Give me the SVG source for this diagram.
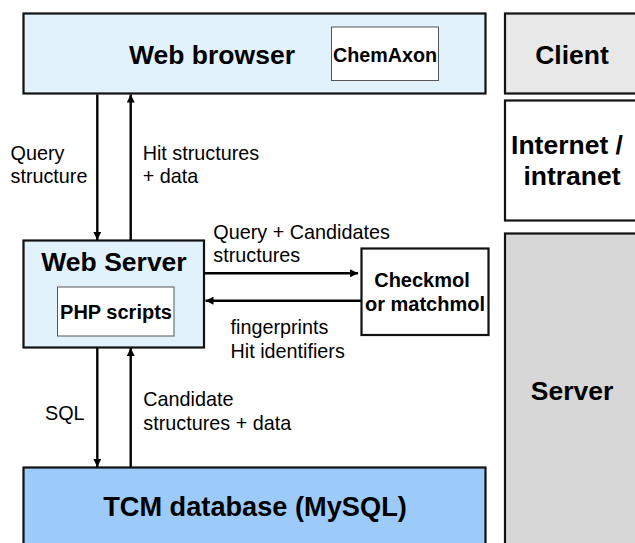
<svg xmlns="http://www.w3.org/2000/svg" width="635" height="543" viewBox="0 0 635 543">
<defs>
<marker id="ah" viewBox="0 0 10 10" refX="10" refY="5" markerWidth="8" markerHeight="8" markerUnits="userSpaceOnUse" orient="auto">
<path d="M0,0 L10,5 L0,10 z" fill="#000"/>
</marker>
</defs>
<style>
.box{stroke:#111;stroke-width:2.2}
.inner{fill:#fff;stroke:#555;stroke-width:1}
.t{font-family:"Liberation Sans",Arial,sans-serif;fill:#000}
.b26{font-size:26.5px;font-weight:bold}
.b20{font-size:20px;font-weight:bold}
.r19{font-size:19.8px}
.c{stroke:#000;stroke-width:2.4;fill:none;marker-end:url(#ah)}
</style>
<rect width="635" height="543" fill="#fff"/>
<g id="client">
<rect class="box" x="505" y="13.5" width="140" height="80" fill="#e8e8e8"/>
<text class="t b26" x="572" y="63.5" text-anchor="middle">Client</text>
</g>
<g id="internet">
<rect class="box" x="505" y="100.5" width="140" height="120" fill="#fff"/>
<text class="t b26" x="567" y="153.5" text-anchor="middle">Internet /</text>
<text class="t b26" x="572" y="185" text-anchor="middle">intranet</text>
</g>
<g id="server">
<rect class="box" x="505" y="233.5" width="140" height="320" fill="#d7d7d7"/>
<text class="t b26" x="572" y="400" text-anchor="middle">Server</text>
</g>
<g id="web-browser">
<rect class="box" x="23.5" y="13.5" width="462" height="80" fill="#e1f2fd"/>
<text class="t b26" x="212" y="63.5" text-anchor="middle">Web browser</text>
<rect class="inner" x="331.5" y="27" width="107" height="53.5"/>
<text class="t b20" x="385" y="62.3" text-anchor="middle" textLength="104" lengthAdjust="spacingAndGlyphs">ChemAxon</text>
</g>
<g id="web-server">
<rect class="box" x="23.5" y="240.5" width="180.5" height="107" fill="#e1f2fd"/>
<text class="t b26" x="114" y="270.7" text-anchor="middle">Web Server</text>
<rect class="inner" x="57.5" y="287" width="116.5" height="49"/>
<text class="t b20" x="116" y="319.3" text-anchor="middle">PHP scripts</text>
</g>
<g id="checkmol">
<rect class="box" x="361.5" y="248.5" width="127" height="86.5" fill="#fff"/>
<text class="t b20" x="422" y="286.7" text-anchor="middle">Checkmol</text>
<text class="t b20" x="425" y="310.7" text-anchor="middle">or matchmol</text>
</g>
<g id="tcm-database">
<rect class="box" x="23.5" y="467.5" width="462" height="90" fill="#9ccbfa"/>
<text class="t b26" x="255" y="516" text-anchor="middle" style="font-size:27.2px">TCM database (MySQL)</text>
</g>
<g id="connectors">
<line class="c" x1="97.3" y1="94.5" x2="97.3" y2="240"/>
<line class="c" x1="130.7" y1="240" x2="130.7" y2="94.5"/>
<line class="c" x1="204" y1="273.3" x2="358" y2="273.3"/>
<line class="c" x1="361" y1="300.7" x2="205.5" y2="300.7"/>
<line class="c" x1="97.3" y1="348" x2="97.3" y2="467"/>
<line class="c" x1="130.7" y1="467" x2="130.7" y2="348"/>
</g>
<g id="labels">
<text class="t r19" x="10.5" y="160">Query</text>
<text class="t r19" x="10.5" y="183">structure</text>
<text class="t r19" x="142.7" y="160">Hit structures</text>
<text class="t r19" x="142.7" y="183">+ data</text>
<text class="t r19" x="213.3" y="238.5">Query + Candidates</text>
<text class="t r19" x="213.3" y="262.3">structures</text>
<text class="t r19" x="230.5" y="333.5">fingerprints</text>
<text class="t r19" x="230.5" y="357.5">Hit identifiers</text>
<text class="t r19" x="45" y="420">SQL</text>
<text class="t r19" x="143.3" y="405.7">Candidate</text>
<text class="t r19" x="143.3" y="430">structures + data</text>
</g>
</svg>
